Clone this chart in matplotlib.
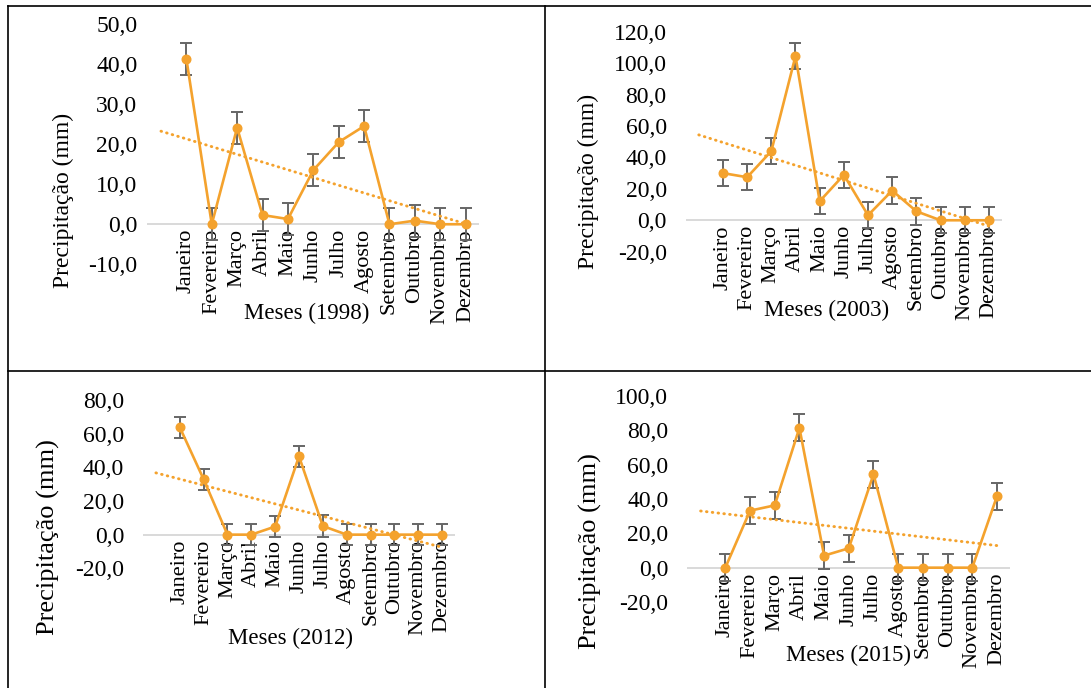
import numpy as np
import matplotlib
matplotlib.use("Agg")
import matplotlib.pyplot as plt
from matplotlib.lines import Line2D

plt.rcParams["font.family"] = ["Liberation Serif", "DejaVu Serif"]

W, H = 1091, 688

meses = ["Janeiro", "Fevereiro", "Março", "Abril", "Maio", "Junho",
         "Julho", "Agosto", "Setembro", "Outubro", "Novembro", "Dezembro"]

chuva_1998 = [41.3, 0.0, 24.1, 2.3, 1.3, 13.5, 20.5, 24.5, 0.0, 0.9, 0.0, 0.0]
chuva_2003 = [30.0, 27.4, 44.0, 104.5, 12.1, 28.9, 3.2, 18.9, 5.7, 0.0, 0.0, 0.0]
chuva_2012 = [63.8, 32.9, 0.0, 0.0, 4.8, 46.5, 5.1, 0.0, 0.0, 0.0, 0.0, 0.0]
chuva_2015 = [0.0, 33.2, 36.3, 81.4, 7.0, 11.3, 54.4, 0.0, 0.0, 0.0, 0.0, 41.6]

erro_1998 = 4.0
erro_2003 = 8.4
erro_2012 = 6.3
erro_2015 = 7.9

LARANJA = "#F4A22D"
CINZA_ERRO = "#666666"
CINZA_EIXO = "#d9d9d9"

# layout of each cell (pixels): plot box, tick pad, label positions
paineis = [
    dict(ano="1998", y=chuva_1998, err=erro_1998, ylim=(-10, 50), passo=10,
         box=(148.3, 24.0, 478.3, 264.3), pad=11,
         ylab=(63, 200, 17), xlab=(307, 313)),
    dict(ano="2003", y=chuva_2003, err=erro_2003, ylim=(-20, 120), passo=20,
         box=(686.7, 31.7, 1001.0, 251.7), pad=20,
         ylab=(588, 181, 17), xlab=(827, 310)),
    dict(ano="2012", y=chuva_2012, err=erro_2012, ylim=(-20, 80), passo=20,
         box=(144.0, 400.0, 454.0, 568.3), pad=20,
         ylab=(48, 537, 19), xlab=(290, 638)),
    dict(ano="2015", y=chuva_2015, err=erro_2015, ylim=(-20, 100), passo=20,
         box=(688.3, 396.0, 1009.3, 602.0), pad=20,
         ylab=(590, 551, 19), xlab=(848, 655)),
]

fig = plt.figure(figsize=(W / 100, H / 100), dpi=100)
fig.patch.set_facecolor("white")

x = np.arange(1, 13)

for p in paineis:
    x0, y0, x1, y1 = p["box"]
    ax = fig.add_axes([x0 / W, 1 - y1 / H, (x1 - x0) / W, (y1 - y0) / H])
    ax.set_facecolor("none")
    vals = np.array(p["y"])

    # category axis sits on the zero line
    for s in ("top", "right", "left"):
        ax.spines[s].set_visible(False)
    ax.spines["bottom"].set_position(("data", 0))
    ax.spines["bottom"].set_color(CINZA_EIXO)
    ax.spines["bottom"].set_linewidth(1.4)
    ax.spines["bottom"].set_zorder(1)

    ax.errorbar(x, vals, yerr=p["err"], fmt="none", ecolor=CINZA_ERRO,
                elinewidth=1.4, capsize=4, capthick=1.4, zorder=2)
    ax.plot(x, vals, color=LARANJA, lw=1.9, marker="o", ms=6.2,
            markerfacecolor=LARANJA, markeredgecolor=LARANJA, zorder=3)

    # linear trend, extended one period backward
    a, b = np.polyfit(x, vals, 1)
    xt = np.array([0, 12])
    ax.plot(xt, a * xt + b, color=LARANJA, lw=2.1,
            linestyle=(0, (0.2, 1.8)), dash_capstyle="round", zorder=4)

    ax.set_xlim(-0.5, 12.5)
    ax.set_ylim(*p["ylim"])
    ticks = np.arange(p["ylim"][0], p["ylim"][1] + 0.1, p["passo"])
    ax.set_yticks(ticks)
    ax.set_yticklabels([f"{t:.1f}".replace(".", ",") for t in ticks], fontsize=17)
    ax.set_xticks(x)
    ax.set_xticklabels(meses, rotation=90, fontsize=16, va="top", ha="center")
    ax.tick_params(axis="y", length=0, pad=p["pad"] * 0.72)
    ax.tick_params(axis="x", length=0, pad=3.5)

    lx, ly, lsize = p["ylab"]
    fig.text(lx / W, 1 - ly / H, "Precipitação (mm)", rotation=90,
             ha="center", va="center", fontsize=lsize)
    mx, my = p["xlab"]
    fig.text(mx / W, 1 - my / H, f"Meses ({p['ano']})",
             ha="center", va="center", fontsize=16.5)

# table rules around the cells
def regua(xa, ya, xb, yb):
    fig.add_artist(Line2D([xa / W, xb / W], [1 - ya / H, 1 - yb / H],
                          color="black", lw=1.2, transform=fig.transFigure))

regua(8, 6, W, 6)
regua(8, 6, 8, H)
regua(545, 6, 545, H)
regua(8, 370.5, W, 370.5)

fig.savefig("out.png", dpi=100, facecolor="white")
